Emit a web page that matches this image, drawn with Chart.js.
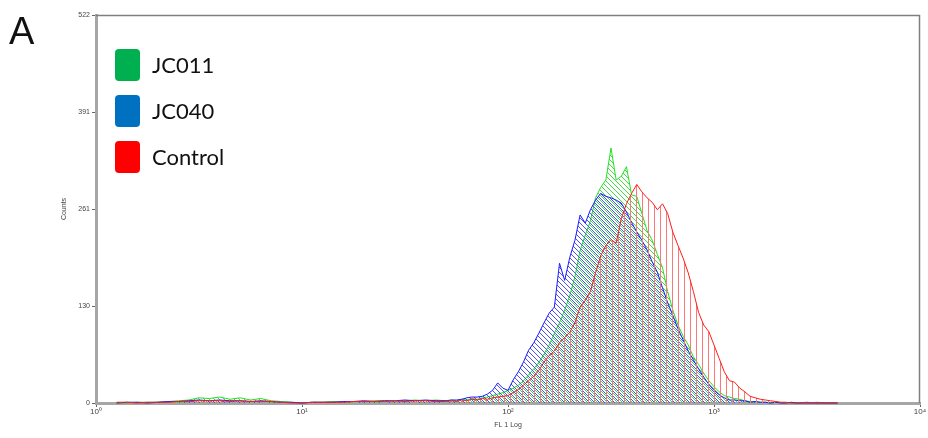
<!DOCTYPE html>
<html lang="en">

<head>
    <meta charset="UTF-8">
    <title>FL 1 Log histogram</title>
    <script src="https://cdn.jsdelivr.net/npm/chart.js"></script>
    <style>
        body {
            margin: 0;
            background: #FFFFFF;
            font-family: 'Liberation Sans', sans-serif;
        }

        .wrap {
            position: relative;
            width: 928px;
            height: 438px;
        }

        .panel {
            position: absolute;
            left: 9px;
            top: 10px;
            font-size: 38px;
            color: #111;
        }

        .legend {
            position: absolute;
            left: 115px;
            top: 48px;
        }

        .legend div {
            display: flex;
            align-items: center;
            height: 33px;
            margin-bottom: 13px;
            font-family: 'Lato', sans-serif;
            font-size: 22px;
            color: #111;
        }

        .legend span {
            display: inline-block;
            width: 25px;
            height: 32px;
            border-radius: 4px;
            margin-right: 12px;
        }
    </style>
</head>

<body>
    <div class="wrap">
        <canvas id="histChart" width="928" height="438"></canvas>
        <div class="panel">A</div>
        <div class="legend" id="legend"></div>
    </div>

    <script>
        // bin positions in decades (log10 of FL 1)
        let fl1Log = [0.10, 0.15, 0.20, 0.25, 0.30, 0.35, 0.40, 0.45, 0.50, 0.55, 0.60, 0.65, 0.70, 0.75, 0.80, 0.85,
            0.90, 0.95, 1.00, 1.05, 1.10, 1.15, 1.20, 1.25, 1.30, 1.35, 1.40, 1.45, 1.50, 1.55, 1.60, 1.65,
            1.700, 1.725, 1.750, 1.775, 1.800, 1.825, 1.850, 1.875, 1.900, 1.925, 1.950, 1.975,
            2.000, 2.025, 2.050, 2.075, 2.100, 2.125, 2.150, 2.175, 2.200, 2.225, 2.250, 2.275,
            2.300, 2.325, 2.350, 2.375, 2.400, 2.425, 2.450, 2.475, 2.500, 2.525, 2.550, 2.575,
            2.600, 2.625, 2.650, 2.675, 2.700, 2.725, 2.750, 2.775, 2.800, 2.825, 2.850, 2.875,
            2.900, 2.925, 2.950, 2.975, 3.000, 3.025, 3.050, 3.075, 3.100, 3.125, 3.150, 3.175,
            3.200, 3.225, 3.250, 3.275, 3.300, 3.325, 3.350, 3.375, 3.400,
            3.45, 3.50, 3.55, 3.60];

        let jc011 = [0, 0, 1, 1, 1, 2, 3, 4, 7, 6, 8, 5, 7, 4, 6, 3, 2, 1, 0, 1, 1, 2, 1, 2, 2, 3, 3, 2, 3, 4, 3, 4,
            3, 4, 3, 5, 4, 6, 5, 7, 8, 10,
            12, 14, 17, 20, 24, 30, 38, 46, 55, 66,
            78, 94, 108, 125, 145, 170, 205, 226, 245, 276,
            290, 300, 343, 300, 305, 318, 280, 278, 255, 232,
            219, 200, 182, 150, 125, 105, 90, 78, 62, 52,
            40, 30, 22, 15, 10, 8, 6, 5, 3, 2,
            2, 1, 1, 0, 1, 0, 0, 0, 0,
            0, 1, 0, 0];

        let jc040 = [0, 1, 1, 0, 1, 2, 2, 3, 4, 3, 4, 3, 3, 2, 3, 2, 1, 1, 0, 1, 1, 1, 2, 2, 3, 2, 3, 3, 4, 3, 4, 3,
            3, 4, 4, 5, 7, 8, 8, 9, 12, 17,
            27, 20, 17, 31, 42, 55, 71, 81, 94, 108,
            121, 129, 188, 165, 196, 219, 253, 242, 260, 273,
            282, 278, 276, 273, 269, 257, 243, 230, 219, 206,
            190, 176, 155, 135, 118, 100, 85, 70, 58, 46,
            35, 25, 17, 11, 7, 4, 4, 3, 3, 1,
            2, 1, 1, 0, 1, 0, 0, 1, 0,
            0, 0, 0, 0];

        let control = [1, 1, 0, 1, 1, 1, 2, 2, 3, 3, 3, 2, 3, 2, 2, 2, 1, 0, 0, 1, 1, 1, 1, 2, 2, 2, 2, 3, 2, 3, 3, 2,
            2, 3, 2, 4, 3, 5, 4, 6, 5, 7,
            8, 9, 10, 14, 18, 24, 30, 36, 44, 55,
            64, 70, 81, 88, 95, 108, 129, 138, 150, 175,
            198, 212, 220, 215, 248, 268, 282, 294, 284, 276,
            270, 260, 268, 255, 230, 212, 195, 175, 150, 122,
            105, 96, 78, 60, 42, 30, 28, 20, 15, 9,
            7, 5, 4, 3, 2, 1, 1, 0, 0,
            1, 0, 0, 0];

        let seriesNames = ['JC011', 'JC040', 'Control'];
        let legendColors = ['#00B050', '#0070C0', '#FF0000'];
        let xTickLabels = ['10⁰', '10¹', '10²', '10³', '10⁴'];
        let yTickValues = [0, 130.5, 261, 391.5, 522];
        let yTickLabels = ['0', '130', '261', '391', '522'];

        // hatch fills like the cytometry software draws them (tile built pixel by pixel)
        function hatch(rgb, kind, shift) {
            let c = document.createElement('canvas');
            let w = kind === 'vertical' ? 6 : 5;
            let h = kind === 'vertical' ? 2 : 5;
            c.width = w; c.height = h;
            let g = c.getContext('2d');
            let img = g.createImageData(w, h);
            for (let y = 0; y < h; y++) {
                let x = kind === 'vertical' ? 0 : (y + shift) % w;
                let k = (y * w + x) * 4;
                img.data[k] = rgb[0];
                img.data[k + 1] = rgb[1];
                img.data[k + 2] = rgb[2];
                img.data[k + 3] = 255;
            }
            g.putImageData(img, 0, 0);
            return document.getElementById('histChart').getContext('2d').createPattern(c, 'repeat');
        }

        function points(values) {
            return values.map((v, i) => ({ x: fl1Log[i], y: v }));
        }

        // legend sits inside the plot, like the original
        let legend = document.getElementById('legend');
        seriesNames.forEach((name, i) => {
            let row = document.createElement('div');
            row.innerHTML = '<span style="background:' + legendColors[i] + '"></span>' + name;
            legend.appendChild(row);
        });

        const frame = {
            id: 'frame',
            afterDraw(chart) {
                let a = chart.chartArea;
                let g = chart.ctx;
                g.save();
                g.strokeStyle = '#7F7F7F';
                g.lineWidth = 1.5;
                g.beginPath();
                g.moveTo(a.left, a.top + 0.5);
                g.lineTo(a.right - 0.5, a.top + 0.5);
                g.lineTo(a.right - 0.5, a.bottom);
                g.stroke();
                g.restore();
            }
        };

        const ctx = document.getElementById('histChart');
        new Chart(ctx, {
            type: 'line',
            data: {
                datasets: [{
                    label: seriesNames[0],
                    data: points(jc011),
                    order: 2,
                    borderColor: '#22E022',
                    backgroundColor: hatch([70, 215, 70], 'diag', 0),
                }, {
                    label: seriesNames[1],
                    data: points(jc040),
                    order: 1,
                    borderColor: '#1A1AFF',
                    backgroundColor: hatch([80, 80, 240], 'diag', 2),
                }, {
                    label: seriesNames[2],
                    data: points(control),
                    order: 0,
                    borderColor: '#FF1A1A',
                    backgroundColor: hatch([250, 120, 120], 'vertical', 0),
                }]
            },
            options: {
                responsive: false,
                animation: false,
                clip: 3,
                layout: { padding: { top: 15, right: 8 } },
                elements: {
                    line: { borderWidth: 1, tension: 0, fill: 'origin' },
                    point: { radius: 0 }
                },
                plugins: {
                    legend: { display: false },
                    tooltip: { enabled: false }
                },
                scales: {
                    x: {
                        type: 'linear',
                        min: 0,
                        max: 4,
                        afterBuildTicks: s => { s.ticks = xTickLabels.map((t, i) => ({ value: i })); },
                        afterFit: s => { s.height = 35; },
                        ticks: {
                            autoSkip: false,
                            maxRotation: 0,
                            padding: 0,
                            color: '#444',
                            font: { size: 8 },
                            callback: (v) => xTickLabels[v]
                        },
                        grid: { display: true, drawOnChartArea: false, tickLength: 4, color: '#666' },
                        border: { color: '#A6A6A6', width: 3 },
                        title: {
                            display: true,
                            text: 'FL 1 Log',
                            color: '#444',
                            font: { size: 7 },
                            padding: { top: 0, bottom: 9 }
                        }
                    },
                    y: {
                        min: 0,
                        max: 522,
                        afterBuildTicks: s => { s.ticks = yTickValues.map(v => ({ value: v })); },
                        afterFit: s => { s.width = 96; },
                        ticks: {
                            autoSkip: false,
                            padding: 2,
                            color: '#444',
                            font: { size: 7 },
                            callback: (v) => yTickLabels[yTickValues.indexOf(v)]
                        },
                        grid: { display: true, drawOnChartArea: false, tickLength: 4, color: '#666' },
                        border: { color: '#A6A6A6', width: 3 },
                        title: {
                            display: true,
                            text: 'Counts',
                            color: '#444',
                            font: { size: 7 },
                            padding: { top: 60, bottom: 0 }
                        }
                    }
                }
            },
            plugins: [frame]
        });
    </script>
</body>

</html>
